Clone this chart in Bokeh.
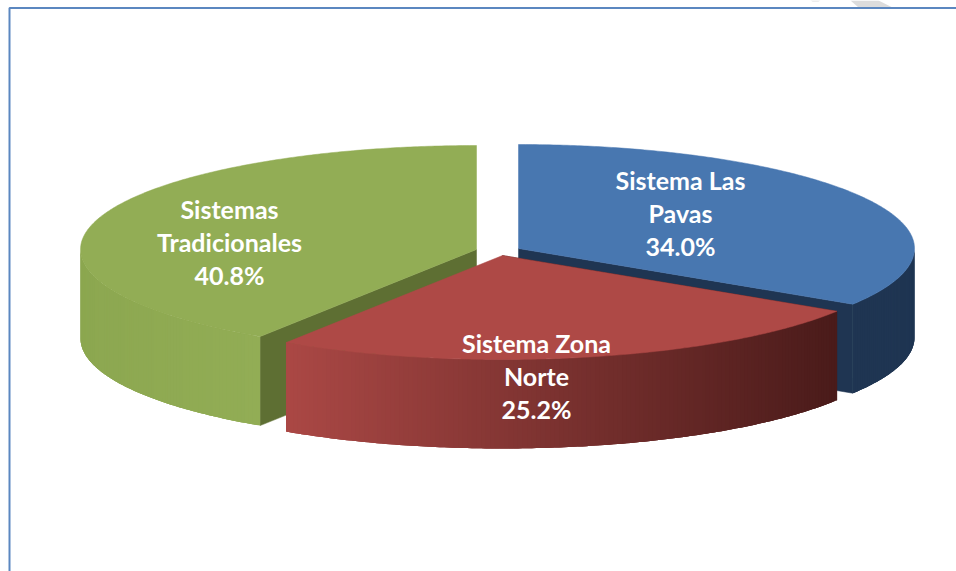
import math
from bokeh.plotting import figure
from bokeh.models import Range1d, ColumnDataSource
from bokeh.core.properties import value
from bokeh.embed import file_html
from bokeh.resources import INLINE

# data
label_lines = [["Sistema Las", "Pavas"], ["Sistema Zona", "Norte"], ["Sistemas", "Tradicionales"]]
shares = [34.0, 25.2, 40.8]

# styling
W, H = 956, 571
centers = [(518, 248), (502, 255), (476, 249)]
RX, RY, DEPTH = 396, 104, 89
top_cols = ["#4877B0", "#AE4946", "#92AD55"]
wall_cols = ["#1F3552", "#4A1B1A", "#5E6F33"]
side_left = [(0x1F, 0x35, 0x52), (0xAB, 0x48, 0x45), (0x8C, 0xA7, 0x50)]
side_right = [(0x1F, 0x35, 0x52), (0x4A, 0x1B, 0x1A), (0x92, 0xAD, 0x55)]
text_anchor = [(680, 179), (536, 342), (229, 208)]
LINE_H = 33

p = figure(width=W, height=H, x_range=Range1d(0, W), y_range=Range1d(H, 0),
           toolbar_location=None, output_backend="svg", min_border=0,
           background_fill_color="white", border_fill_color="white",
           outline_line_color=None, styles={"position": "absolute", "left": "0", "top": "0"})
p.xaxis.visible = False
p.yaxis.visible = False
p.grid.visible = False

# faint background stripes and frame
p.patches([[850, 878, 892, 858], [810, 820, 818, 812]], [[0, 0, 7, 7], [0, 0, 1, 1]],
          fill_color="#DCDCDC", line_color=None)
p.line([W, 9, 9], [7.5, 7.5, H], line_color="#5B87C0", line_width=2)


def pt(c, deg, dy=0):
    a = math.radians(deg)
    return c[0] + RX * math.sin(a), c[1] - RY * math.cos(a) + dy


cum = [0.0]
for s in shares:
    cum.append(cum[-1] + s)
spans = [(cum[i] * 3.6, cum[i + 1] * 3.6) for i in range(len(shares))]


def lerp(a, b, t):
    return "#%02x%02x%02x" % tuple(round(a[i] + (b[i] - a[i]) * t) for i in range(3))


def draw_slice(i):
    c, (a0, a1) = centers[i], spans[i]
    # straight cut wall facing the viewer
    wall_angle = a1 if i == 0 else a0
    ex, ey = pt(c, wall_angle)
    p.patch([c[0], ex, ex, c[0]], [c[1], ey, ey + DEPTH, c[1] + DEPTH],
            fill_color=wall_cols[i], line_color=wall_cols[i], line_width=0.5)
    # curved outer side: strips shaded across x; each one also covers the next
    vis0, vis1 = max(a0, 90), min(a1, 270)
    n = max(2, int((vis1 - vis0) * 1.5))
    angs = [vis0 + (vis1 - vis0) * k / n for k in range(n + 1)]
    xvals = [pt(c, a)[0] for a in angs]
    xmin, xmax = min(xvals), max(xvals)
    # painted from the right edge towards the left, i.e. in rising angle
    for k in range(n):
        tail = angs[k:min(k + 4, n + 1)]
        t = (xvals[k] - xmin) / (xmax - xmin)
        col = lerp(side_left[i], side_right[i], t)
        tops = [pt(c, a) for a in tail]
        xs = [q[0] for q in tops] + [q[0] for q in reversed(tops)]
        ys = [q[1] for q in tops] + [q[1] + DEPTH for q in reversed(tops)]
        p.patch(xs, ys, fill_color=col, line_color=None)
    # top surface
    m = int(a1 - a0) * 2
    xs, ys = [c[0]], [c[1]]
    for k in range(m + 1):
        x, y = pt(c, a0 + (a1 - a0) * k / m)
        xs.append(x)
        ys.append(y)
    p.patch(xs, ys, fill_color=top_cols[i], line_color=top_cols[i], line_width=0.5)


# blue first, then green, then the pulled-forward red slice
draw_slice(0)
draw_slice(2)
draw_slice(1)

# labels
tx, ty, tt = [], [], []
for i, lines in enumerate(label_lines):
    rows = lines + [f"{shares[i]:.1f}%"]
    for j, r in enumerate(rows):
        tx.append(text_anchor[i][0])
        ty.append(text_anchor[i][1] + j * LINE_H)
        tt.append(r)
src = ColumnDataSource(dict(x=tx, y=ty, t=tt))
p.text("x", "y", text="t", source=src, text_font=value("Lato"), text_font_style="bold",
       text_font_size="25px", text_color="white", text_align="center", text_baseline="middle")

open("out.html", "w").write(file_html(p, INLINE))
